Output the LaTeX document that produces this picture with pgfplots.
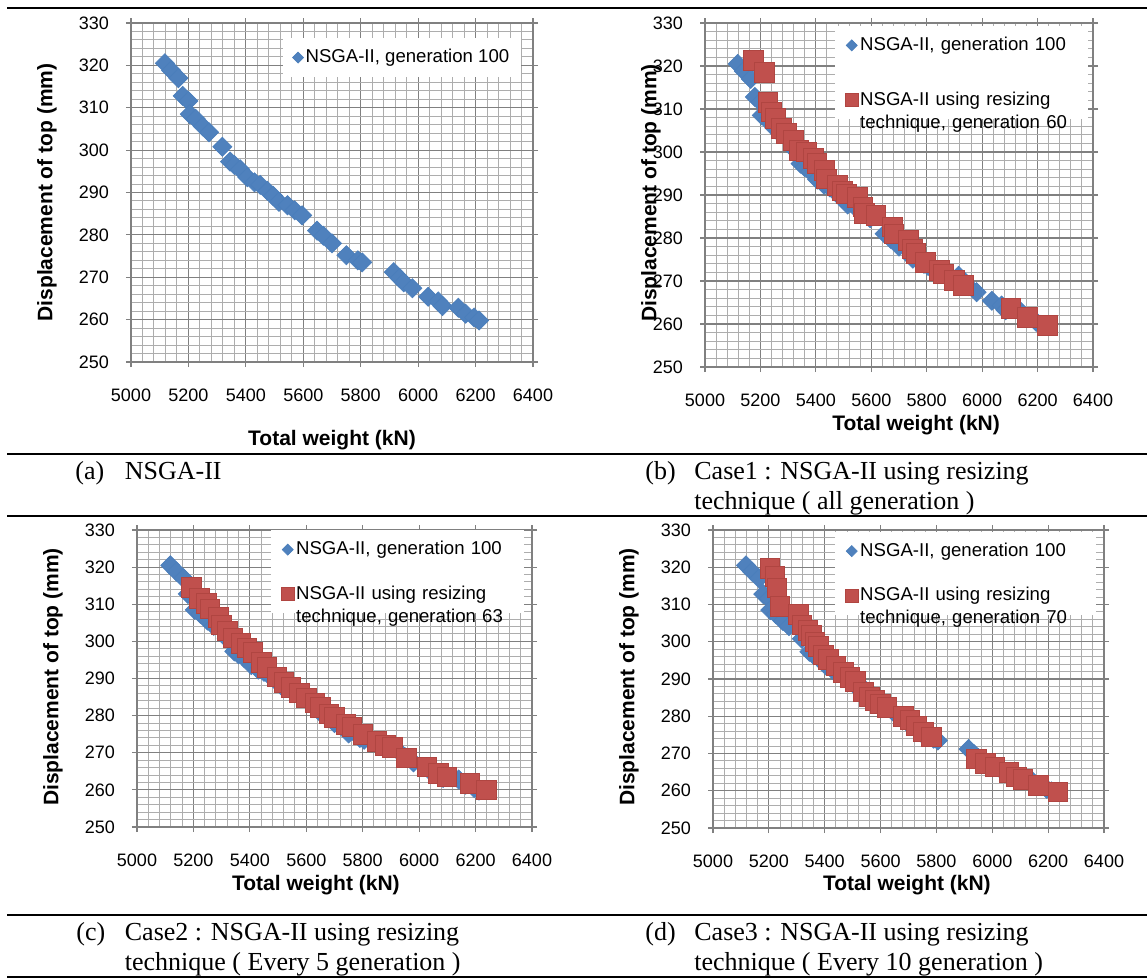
\documentclass[border=0pt]{standalone}
\usepackage{fontspec}
\setmainfont{Liberation Sans}
\newfontfamily\capfont{Liberation Serif}
\usepackage{pgfplots}
\usepackage{pgfplotstable}
\pgfplotsset{compat=1.18}

\definecolor{ser1}{HTML}{4F81BD}
\definecolor{ser1e}{HTML}{4A7EBB}
\definecolor{ser2}{HTML}{C0504D}
\definecolor{ser2e}{HTML}{B04541}

% NSGA-II, generation 100 (same front in all four panels)
\pgfplotstableread{
w d
5118 320.5
5140 318.8
5165 317.0
5180 312.8
5200 311.6
5205 308.5
5225 307.4
5250 305.6
5272 304.2
5318 300.8
5345 297.3
5360 296.5
5380 295.5
5405 293.6
5430 292.4
5450 291.8
5475 290.4
5495 289.2
5515 287.8
5545 287.0
5570 285.8
5596 284.6
5648 281.0
5670 279.8
5700 278.0
5750 275.2
5790 274.0
5805 273.5
5915 271.2
5935 269.8
5950 268.8
5980 267.4
6035 265.4
6070 264.3
6085 263.2
6140 262.8
6165 261.4
6195 260.5
6212 259.8
}\gena

% resizing, generation 60 (case 1)
\pgfplotstableread{
w d
5174 321.3
5215 318.5
5227 311.6
5240 309.3
5253 307.8
5275 305.5
5293 304.3
5319 302.7
5339 300.4
5365 300.0
5390 298.5
5404 297.3
5431 295.7
5438 293.8
5477 292.2
5495 291.0
5510 290.3
5550 289.5
5570 287.2
5576 285.7
5616 285.3
5675 282.6
5682 281.0
5734 279.5
5748 277.5
5761 276.4
5794 274.4
5846 272.5
5860 271.7
5900 270.2
5932 269.0
6103 263.6
6163 261.6
6235 259.7
}\resb

% resizing, generation 63 (case 2)
\pgfplotstableread{
w d
5192 314.5
5220 311.6
5245 310.2
5258 308.8
5288 306.5
5300 304.5
5320 302.8
5340 301.0
5368 299.4
5390 298.3
5410 297.0
5440 294.4
5460 293.0
5495 290.4
5520 289.0
5545 287.6
5575 286.1
5600 284.8
5630 283.4
5650 282.2
5680 280.5
5700 279.6
5740 277.6
5762 277.0
5800 274.9
5850 273.0
5880 272.0
5905 271.5
5955 268.6
6027 266.2
6068 264.4
6098 263.5
6180 261.8
6238 260.0
}\resc

% resizing, generation 70 (case 3)
\pgfplotstableread{
w d
5204 319.7
5222 317.5
5228 314.5
5240 309.5
5306 307.4
5318 304.5
5340 303.0
5353 301.8
5365 300.0
5377 298.7
5395 296.5
5413 295.3
5440 293.5
5466 291.8
5490 290.5
5510 289.3
5538 286.6
5560 285.2
5580 284.2
5600 283.3
5622 282.4
5681 279.9
5705 279.0
5729 277.4
5753 275.8
5782 274.5
5943 268.6
5975 267.3
6009 266.4
6060 265.0
6087 263.7
6110 263.0
6164 261.5
6235 259.7
}\resd

\pgfplotsset{
  panel/.style={
    scale only axis, anchor=south west,
    xmin=5000, xmax=6400, ymin=250, ymax=330,
    xtick={5000,5200,...,6400}, ytick={250,260,...,330},
    minor x tick num=4, minor y tick num=4,
    grid=both,
    major grid style={line width=0.6pt, black!50},
    minor grid style={line width=0.5pt, black!32},
    tick align=outside, major tick length=2.5pt, minor tick length=0pt,
    tick style={black!50, line width=0.6pt},
    axis line style={black!50, line width=0.7pt},
    tick label style={font=\fontsize{9}{10}\selectfont},
    /pgf/number format/assume math mode=true,
    /pgf/number format/1000 sep={},
    scaled ticks=false,
    xticklabel style={yshift=-7.5pt},
    yticklabel style={xshift=-5pt},
    label style={font=\bfseries\fontsize{10.5}{12}\selectfont, anchor=center},
    xlabel={Total weight (kN)},
    ylabel={Displacement of top (mm)},
    legend cell align=left,
    legend style={anchor=north west, draw=none, fill=white,
      font=\fontsize{9.3}{11.5}\selectfont,
      inner xsep=5pt, inner ysep=4pt,
      nodes={inner xsep=1pt, inner ysep=1.5pt}},
    clip=false,
  },
  gen100/.style={only marks, mark=square*, mark size=3.4pt,
    mark options={rotate=45, fill=ser1, draw=ser1e, line width=0.3pt},
    legend image code/.code={\draw[##1, mark size=1.95pt] plot coordinates {(0pt,0pt)};}},
  resz/.style={only marks, mark=square*, mark size=4.9pt,
    mark options={fill=ser2, draw=ser2e, line width=0.35pt},
    legend image code/.code={\draw[##1, mark size=3.2pt] plot coordinates {(0pt,0pt)};}},
}

\begin{document}
\begin{tikzpicture}
\useasboundingbox (0pt,0pt) rectangle (573.5pt,-489.5pt);

% table rules
\draw[line width=1pt] (3.5pt,-4pt) -- (573.5pt,-4pt);
\draw[line width=1pt] (3.5pt,-227pt) -- (573.5pt,-227pt);
\draw[line width=1pt] (3.5pt,-258pt) -- (573.5pt,-258pt);
\draw[line width=1pt] (3.5pt,-457.5pt) -- (573.5pt,-457.5pt);
\draw[line width=1pt] (3.5pt,-488.5pt) -- (573.5pt,-488.5pt);

% (a)
\begin{axis}[panel, at={(65.5pt,-181pt)}, width=201pt, height=169.5pt,
  xlabel style={at={(axis description cs:0.5,-0.23)}},
  ylabel style={at={(axis description cs:-0.209,0.5)}},
  legend style={at={(0.376,0.956)}}]
\addplot[gen100] table {\gena};
\addlegendentry{NSGA-II, generation 100}
\end{axis}

% (b)
\begin{axis}[panel, at={(352.5pt,-183.5pt)}, width=194pt, height=172pt,
  xlabel style={at={(axis description cs:0.544,-0.169)}},
  ylabel style={at={(axis description cs:-0.139,0.506)}},
  legend style={at={(0.335,0.992)}, row sep=16pt, nodes={text width=108pt}}]
\addplot[gen100] table {\gena};
\addlegendentry{NSGA-II, generation 100}
\addplot[resz] table {\resb};
\addlegendentry[align=left]{NSGA-II using resizing\\technique, generation 60}
\end{axis}

% (c)
\begin{axis}[panel, at={(68.5pt,-413.5pt)}, width=197.5pt, height=148.5pt,
  xlabel style={at={(axis description cs:0.453,-0.195)}},
  ylabel style={at={(axis description cs:-0.213,0.505)}},
  legend style={at={(0.339,1.0)}, row sep=11pt, nodes={text width=108pt}}]
\addplot[gen100] table {\gena};
\addlegendentry{NSGA-II, generation 100}
\addplot[resz] table {\resc};
\addlegendentry[align=left]{NSGA-II using resizing\\technique, generation 63}
\end{axis}

% (d)
\begin{axis}[panel, at={(356.5pt,-414pt)}, width=195.5pt, height=149pt,
  xlabel style={at={(axis description cs:0.496,-0.191)}},
  ylabel style={at={(axis description cs:-0.215,0.507)}},
  legend style={at={(0.312,0.995)}, row sep=11pt, nodes={text width=112pt}}]
\addplot[gen100] table {\gena};
\addlegendentry{NSGA-II, generation 100}
\addplot[resz] table {\resd};
\addlegendentry[align=left]{NSGA-II using resizing\\technique, generation 70}
\end{axis}

% captions
\begin{scope}[every node/.style={anchor=base west, inner sep=0pt, font=\capfont\fontsize{13}{15}\selectfont}]
\node at (37.5pt,-239.5pt) {(a)};
\node at (62.25pt,-239.5pt) {NSGA-II};
\node at (322.5pt,-239.5pt) {(b)};
\node at (347pt,-239.5pt) {Case1 : NSGA-II using resizing};
\node at (347pt,-254.5pt) {technique ( all generation )};
\node at (38pt,-470pt) {(c)};
\node at (62.25pt,-470pt) {Case2 : NSGA-II using resizing};
\node at (62.25pt,-485pt) {technique ( Every 5 generation )};
\node at (322.5pt,-470pt) {(d)};
\node at (347pt,-470pt) {Case3 : NSGA-II using resizing};
\node at (347pt,-485pt) {technique ( Every 10 generation )};
\end{scope}
\end{tikzpicture}
\end{document}
